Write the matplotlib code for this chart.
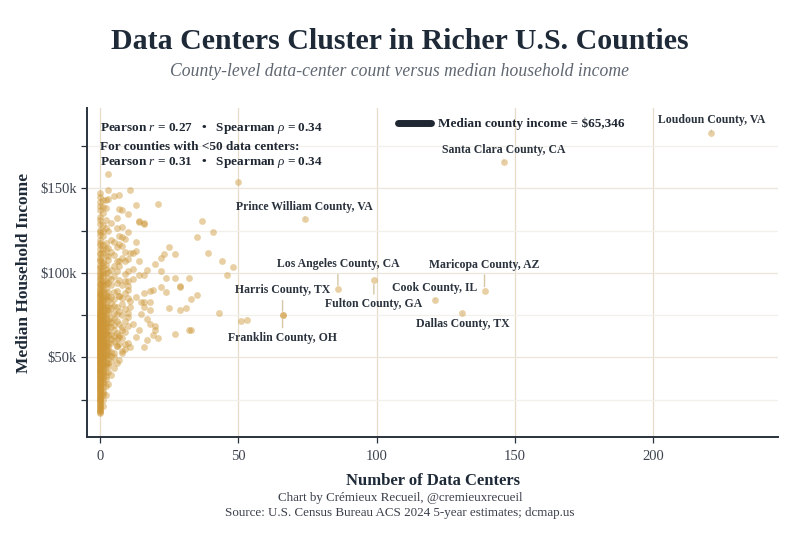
import matplotlib
matplotlib.use("Agg")
import matplotlib.pyplot as plt
from matplotlib.lines import Line2D
from matplotlib.ticker import MultipleLocator, FuncFormatter

plt.rcParams['font.family'] = ['Liberation Serif', 'DejaVu Serif']
plt.rcParams['mathtext.fontset'] = 'custom'
plt.rcParams['mathtext.it'] = 'Liberation Serif:italic'
plt.rcParams['mathtext.rm'] = 'Liberation Serif'

# ---------------- data (incomes in $ thousands) ----------------
inc_0 = [17, 17.8, 18.5, 19.6, 20.3, 21.5, 22.1, 23.4, 24.2, 25.0, 25.9, 26.7, 27.4, 28.3,
         29.1, 29.8, 30.6, 31.5, 32.2, 33.0, 33.9, 34.5, 35.3, 36.1, 36.8, 37.6, 38.2, 39.0,
         39.7, 40.5, 41.1, 41.8, 42.4, 43.1, 43.9, 44.5, 45.2, 45.8, 46.4, 47.1, 47.7, 48.3,
         49.0, 49.6, 50.2, 50.9, 51.5, 52.0, 52.7, 53.3, 53.9, 54.4, 55.0, 55.6, 56.1, 56.8,
         57.3, 57.9, 58.4, 59.0, 59.6, 60.1, 60.7, 61.2, 61.8, 62.4, 62.9, 63.5, 64.0, 64.6,
         65.2, 65.7, 66.3, 66.9, 67.4, 68.0, 68.6, 69.1, 69.8, 70.4, 71.0, 71.7, 72.3, 73.0,
         73.6, 74.3, 75.1, 75.8, 76.6, 77.3, 78.1, 79.0, 79.8, 80.7, 81.6, 82.5, 83.5, 84.4,
         85.5, 86.6, 87.7, 88.9, 90.1, 91.4, 92.8, 94.2, 95.7, 97.3, 99.0, 100.8, 102.6, 104.5,
         106.7, 108.9, 111.3, 113.8, 116.5, 119.2, 122.3, 125.6, 129.1, 133.0, 137.2, 141.9, 147.3,
         19.0, 21.0, 23.0, 24.7, 26.2, 28.0, 29.5, 31.0, 32.6, 34.0, 35.7, 37.2, 38.6, 40.0,
         41.4, 42.8, 44.0, 45.5, 46.8, 48.0, 49.3, 50.5, 51.8, 53.0, 54.2, 55.3, 56.5, 57.6,
         58.7, 59.8, 61.0, 62.1, 63.2, 64.3, 65.5, 66.6, 67.7, 68.9, 70.1, 71.3, 72.6, 74.0,
         75.4, 76.9, 78.5, 80.2, 82.0, 84.0, 86.1, 88.3, 90.7, 93.4, 96.3, 99.6, 103.3, 107.4,
         112.0, 117.5, 124.0, 131.0, 139.5, 144.6]
inc_1 = [21.5, 24.8, 27.9, 30.2, 32.6, 34.8, 36.5, 38.4, 40.1, 41.9, 43.3, 44.8, 46.2, 47.6,
         48.9, 50.3, 51.6, 52.8, 54.1, 55.3, 56.6, 57.8, 59.0, 60.3, 61.5, 62.8, 64.0, 65.3,
         66.6, 67.9, 69.3, 70.7, 72.1, 73.6, 75.1, 76.7, 78.4, 80.1, 81.9, 83.8, 85.8, 87.9,
         90.2, 92.6, 95.1, 97.9, 100.9, 104.2, 107.8, 111.9, 116.4, 121.7, 128.3, 135.6, 143.0,
         29.0, 35.6, 39.3, 42.6, 45.5, 48.2, 50.9, 53.4, 55.9, 58.4, 60.9, 63.4, 65.9, 68.5,
         71.4, 74.4, 77.5, 80.9, 84.8, 89.0, 93.8, 99.3, 105.9, 114.0, 124.8, 139.0]
inc_2 = [27.6, 33.1, 37.4, 41.2, 44.6, 47.5, 50.1, 52.6, 54.9, 57.1, 59.3, 61.4, 63.6, 65.8,
         68.1, 70.4, 72.9, 75.5, 78.2, 81.1, 84.3, 87.6, 91.2, 95.3, 99.8, 104.9, 110.6, 117.8,
         126.4, 138.5, 142.8, 39.2, 45.9, 51.3, 56.0, 60.3, 64.7, 69.2, 74.1, 79.6, 85.9,
         93.4, 102.3, 114.2, 131.5]
inc_3 = [34.2, 41.5, 44.7, 46.8, 51.3, 53.0, 55.2, 58.7, 62.1, 65.4, 68.8, 72.3, 76.0, 79.9,
         84.2, 88.9, 94.1, 100.2, 107.5, 114.9, 124.6, 143.5, 149.0, 158.4, 49.0, 57.0, 63.8,
         70.5, 78.0, 86.5, 97.0, 110.0]
inc_4 = [39.5, 47.2, 53.1, 58.4, 63.3, 68.2, 73.4, 79.1, 85.6, 93.0, 101.7, 112.5, 129.6,
         50.5, 61.0, 71.0, 82.2, 96.5, 119.4]
inc_5 = [43.8, 50.0, 52.4, 59.6, 66.1, 72.8, 76.0, 80.2, 88.7, 98.4, 110.3, 118.0, 145.7,
         62.5, 69.4, 84.5, 103.8]
inc_6 = [46.5, 56.5, 56.9, 64.2, 71.5, 79.8, 89.4, 101.1, 107.0, 126.7, 132.6, 60.8, 75.6,
         94.0, 115.2]
inc_7 = [48.5, 57.8, 63.0, 69.5, 77.4, 86.2, 95.5, 104.3, 117.0, 138.0]
inc_8 = [52.8, 61.6, 67.7, 74.8, 84.9, 92.9, 115.6, 127.3]
inc_9 = [55.1, 64.9, 71.6, 78.8, 88.1, 99.5, 120.2]
inc_10 = [58.3, 68.7, 76.5, 85.2, 95.0, 108.2]

other_counts = [7, 11, 13, 21, 8, 10, 14, 16, 37, 41, 35, 39, 44, 48, 46, 25, 23, 22, 20, 27,
                17, 22, 24, 27, 32, 13, 7, 10, 9, 11, 13, 14, 9, 7, 12, 14, 33, 35, 29, 31,
                29, 25, 43, 51, 53, 33, 32, 27, 21, 19, 16, 19, 16, 18, 16, 17, 20, 14, 13, 11,
                15, 10, 12, 16, 10, 8, 12, 16, 14, 8, 50, 22, 24, 29, 17, 20, 11, 8, 12, 10,
                18, 15, 18, 16, 13, 18, 10, 8, 11, 7, 9, 8, 9, 7]
other_incomes = [146, 149, 140, 140.6, 137, 135, 130, 129, 130.4, 124, 121, 111.6, 107, 103.5,
                 99, 115.5, 111, 108.8, 105.5, 111, 101.6, 100.8, 97.2, 97.2, 97, 118, 122, 124,
                 112.5, 112, 113, 107, 107, 107, 102, 99, 84.3, 87, 92, 79.4, 78, 79, 76.3,
                 71.4, 72, 66.3, 66, 64, 61.6, 63.4, 56, 90, 88, 83, 79.6, 72.8, 66.3, 66.3,
                 62, 83.5, 82.5, 92.4, 96.3, 99, 101, 109, 112, 129.6, 130.6, 121, 153.5, 91.8,
                 88.4, 91.8, 60.4, 68.8, 56, 54, 70, 74, 70, 75.7, 78, 83, 85.5, 89.4, 89.8,
                 81.6, 80, 62, 58, 66, 95, 86]

label_names = ["Loudoun County, VA", "Santa Clara County, CA", "Prince William County, VA",
               "Los Angeles County, CA", "Fulton County, GA", "Cook County, IL",
               "Maricopa County, AZ", "Dallas County, TX", "Harris County, TX",
               "Franklin County, OH"]
label_counts = [221, 146, 74, 86, 99, 121, 139, 131, 66, 66]
label_incomes = [182.7, 165.6, 131.8, 90.2, 95.6, 83.8, 89.4, 76.5, 74.8, 75.2]
label_offsets = [(0, 13), (0, 12), (0, 12), (0, 25), (0, -24), (0, 12), (0, 26), (0, -11),
                 (0, 25), (0, -23)]

median_income = 65346
stats_all = (0.27, 0.34)
stats_small = (0.31, 0.34)

# ---------------- figure ----------------
W, H = 800, 533
fig = plt.figure(figsize=(8, 5.33), dpi=100)
fig.patch.set_facecolor('white')

def fy(py):
    return 1 - py / H

ax = fig.add_axes([87 / W, fy(437.3), (778 - 87) / W, (437.3 - 108) / H])
ax.set_facecolor('white')

gold = '#CC9636'
dark = '#1f2733'

groups = [inc_0, inc_1, inc_2, inc_3, inc_4, inc_5, inc_6, inc_7, inc_8, inc_9, inc_10]
xs, ys = [], []
for count, vals in enumerate(groups):
    xs += [count] * len(vals)
    ys += vals
xs += other_counts + label_counts
ys += other_incomes + label_incomes
ax.scatter(xs, [v * 1000 for v in ys], s=24, color=gold, alpha=0.45, linewidths=0, zorder=3)

ax.set_xlim(-4.7, 245.1)
ax.set_ylim(2700, 197500)

ax.xaxis.set_major_locator(MultipleLocator(50))
ax.yaxis.set_major_locator(MultipleLocator(50000))
ax.yaxis.set_minor_locator(MultipleLocator(25000))
ax.yaxis.set_major_formatter(FuncFormatter(lambda v, p: f"${int(v/1000)}k"))

ax.grid(axis='x', which='major', color='#e6dcc8', lw=0.9, zorder=0)
ax.grid(axis='y', which='major', color='#ebe5dc', lw=0.9, zorder=0)
ax.grid(axis='y', which='minor', color='#f3efe9', lw=0.9, zorder=0)

for s in ['top', 'right']:
    ax.spines[s].set_visible(False)
for s in ['left', 'bottom']:
    ax.spines[s].set_color('#2a323d')
    ax.spines[s].set_linewidth(1.4)

ax.tick_params(axis='both', which='both', colors='#2a323d', labelcolor='#3d4450',
               labelsize=10.5, length=4, width=0.9)
ax.tick_params(axis='x', pad=5)

# labels
for name, cx, cy, (dx, dy) in zip(label_names, label_counts, label_incomes, label_offsets):
    ax.annotate(name, xy=(cx, cy * 1000), xytext=(dx, dy), textcoords='offset pixels',
                ha='center', va='center', fontsize=8.5, fontweight='bold', color='#2a323d',
                zorder=5,
                arrowprops=dict(arrowstyle='-', color='#d6c6a6', lw=1.0,
                                shrinkA=1, shrinkB=3))

# stats text
fig.text(100 / W, fy(131), r'Pearson $r$ = %.2f   •   Spearman $\rho$ = %.2f' % stats_all,
         fontsize=9.5, fontweight='bold', color=dark, va='baseline', ha='left')
fig.text(100 / W, fy(150), 'For counties with <50 data centers:',
         fontsize=9.5, fontweight='bold', color=dark, va='baseline', ha='left')
fig.text(100 / W, fy(165), r'Pearson $r$ = %.2f   •   Spearman $\rho$ = %.2f' % stats_small,
         fontsize=9.5, fontweight='bold', color=dark, va='baseline', ha='left')

# legend for median
handle = Line2D([], [], color=dark, lw=5, solid_capstyle='round')
ax.legend([handle], [f'Median county income = ${median_income:,}'], loc='center left',
          bbox_to_anchor=((398 - 87) / (778 - 87), (437.3 - 124) / (437.3 - 108)),
          frameon=False, borderpad=0, borderaxespad=0, handlelength=2.5, handletextpad=0.5,
          prop={'weight': 'bold', 'size': 9.5}, labelcolor=dark)

# titles
fig.text(0.5, fy(49), 'Data Centers Cluster in Richer U.S. Counties', ha='center',
         va='baseline', fontsize=21.5, fontweight='bold', color='#1f2a38')
fig.text(0.5, fy(76), 'County-level data-center count versus median household income',
         ha='center', va='baseline', fontsize=12.7, style='italic', color='#5f6670')

# axis labels
fig.text(432.5 / W, fy(485), 'Number of Data Centers', ha='center', va='baseline',
         fontsize=12, fontweight='bold', color='#1f2a38')
fig.text(24 / W, fy(273), 'Median Household Income', ha='center', va='center',
         rotation=90, fontsize=12.5, fontweight='bold', color='#1f2a38')

# credits
fig.text(0.5, fy(501), 'Chart by Crémieux Recueil, @cremieuxrecueil', ha='center',
         va='baseline', fontsize=9.4, color='#3a3f4a')
fig.text(0.5, fy(516), 'Source: U.S. Census Bureau ACS 2024 5-year estimates; dcmap.us',
         ha='center', va='baseline', fontsize=9.4, color='#3a3f4a')

fig.savefig('out.png', dpi=100, facecolor='white')
